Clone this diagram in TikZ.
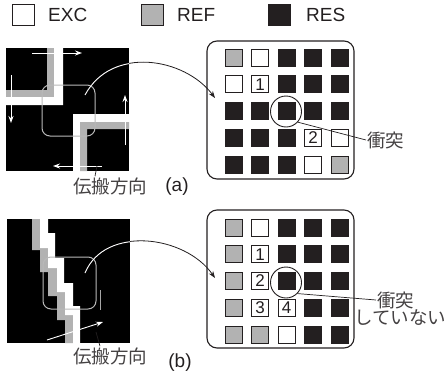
\documentclass[tikz,border=0pt]{standalone}
\usepackage{fontspec}
\setmainfont{Liberation Sans}
\newfontfamily\jp{Noto Sans CJK JP}
\usetikzlibrary{arrows.meta}
\definecolor{cellgray}{RGB}{178,178,178}
\definecolor{cellblack}{RGB}{35,31,32}
\definecolor{cellwhite}{RGB}{255,255,255}

\begin{document}
\begin{tikzpicture}[x=1pt,y=-1pt,
  cell/.style={draw=cellblack, line width=0.7pt, minimum size=17pt, inner sep=0pt, outer sep=0pt},
  legendbox/.style={draw=cellblack, line width=0.7pt, minimum width=22pt, minimum height=21pt, inner sep=0pt},
  latin/.style={font=\fontsize{19}{22}\selectfont, inner sep=0pt, text=cellblack},
  numtxt/.style={font=\fontsize{17}{18}\selectfont, inner sep=0pt, text=cellblack},
  jptxt/.style={font=\jp\fontsize{18.5}{20}\selectfont, inner sep=1pt, text=cellblack!85},
  panel/.style={draw=cellblack, line width=1.1pt, rounded corners=10pt},
  zoomframe/.style={draw=gray!55, line width=1pt, rounded corners=8pt},
  dirarrow/.style={draw=white, line width=0.9pt, -{Stealth[length=7pt,width=5pt]}},
  conn/.style={draw=cellblack, line width=0.8pt, -{Stealth[length=7pt,width=5pt]}},
  leader/.style={draw=cellblack, line width=0.7pt},
  hit/.style={circle, draw=cellblack, line width=0.9pt, minimum size=31pt, inner sep=0pt}]

\useasboundingbox (0,0) rectangle (447,383);

% ---------- legend ----------
\node[legendbox, fill=cellwhite] (lgexc) at (23.5,15) {};
\node[latin, anchor=west] (lgexct) at (48,15) {EXC};
\node[legendbox, fill=cellgray] (lgref) at (152.5,15) {};
\node[latin, anchor=west] (lgreft) at (177,15) {REF};
\node[legendbox, fill=cellblack] (lgres) at (279.5,15) {};
\node[latin, anchor=west] (lgrest) at (306,15) {RES};

% ---------- (a) propagation field ----------
\fill[black] (6,48) rectangle (129,171);
\fill[cellgray] (47,48) -- (54,48) -- (54,97) -- (6,97) -- (6,90) -- (47,90) -- cycle;
\fill[white] (54,48) -- (63,48) -- (63,105) -- (6,105) -- (6,97) -- (54,97) -- cycle;
\fill[white] (73,171) -- (73,114) -- (129,114) -- (129,122) -- (80,122) -- (80,171) -- cycle;
\fill[cellgray] (80,171) -- (80,122) -- (129,122) -- (129,129) -- (87,129) -- (87,171) -- cycle;
\draw[dirarrow] (32,53) -- (82,53);
\draw[dirarrow] (11,75) -- (11,123);
\draw[dirarrow] (125,145) -- (125,95);
\draw[dirarrow] (102,166) -- (53,166);
\draw[zoomframe] (42,85) rectangle (95,136);
\coordinate (startA) at (85,95);
\coordinate (arrA) at (97,166);
\node[jptxt] (dirA) at (110,186) {伝搬方向};
\node[latin] (capA) at (177,187) {(a)};
\draw[leader] ([xshift=-15pt]dirA.north) -- (arrA);

% ---------- (a) cell grid ----------
\draw[panel] (207,41) rectangle (354,179);
\foreach \row [count=\i from 0] in {
  {cellgray,cellwhite,cellblack,cellblack,cellblack},
  {cellwhite,cellwhite,cellblack,cellblack,cellblack},
  {cellblack,cellblack,cellblack,cellblack,cellblack},
  {cellblack,cellblack,cellblack,cellwhite,cellwhite},
  {cellblack,cellblack,cellblack,cellwhite,cellgray}} {
  \foreach \s [count=\j from 0] in \row {
    \node[cell, fill=\s] (a-\i-\j) at ({233.5+26.5*\j},{57.5+26.75*\i}) {};
  }
}
\node[numtxt] (na1) at (a-1-1) {1};
\node[numtxt] (na2) at (a-3-3) {2};
\node[hit] (hitA) at (286,111.5) {};
\node[jptxt, anchor=west] (colA) at (366,140) {衝突};
\draw[leader] (hitA.-42) -- (colA.west);
\coordinate (endA) at (215,98);
\draw[conn] (startA) .. controls (112,45) and (185,58) .. (endA);
\begin{scope}
  \clip (6,48) rectangle (129,171);
  \draw[white, line width=0.9pt] (startA) .. controls (112,45) and (185,58) .. (endA);
\end{scope}

% ---------- (b) propagation field ----------
\fill[black] (7,219) rectangle (130,343);
\fill[cellgray] (32,219) -- (32,250) -- (40,250) -- (40,272) -- (48,272) -- (48,296)
  -- (57,296) -- (57,320) -- (65,320) -- (65,343) -- (73,343) -- (73,315) -- (65,315)
  -- (65,292) -- (57,292) -- (57,268) -- (48,268) -- (48,248) -- (40,248) -- (40,219) -- cycle;
\fill[white] (40,219) -- (40,248) -- (48,248) -- (48,268) -- (57,268) -- (57,292)
  -- (65,292) -- (65,315) -- (73,315) -- (73,343) -- (80,343) -- (80,306) -- (73,306)
  -- (73,283) -- (64,283) -- (64,258) -- (55,258) -- (55,233) -- (48,233) -- (48,219) -- cycle;
\draw[gray!70, line width=0.8pt] (100,290) -- (100,310);
\draw[dirarrow] (47,340) -- (103,322);
\draw[zoomframe] (43,257) rectangle (96,309);
\coordinate (startB) at (85,273);
\coordinate (arrB) at (96,332);
\node[jptxt] (dirB) at (110,356) {伝搬方向};
\node[latin] (capB) at (180,363) {(b)};
\draw[leader] ([xshift=-10pt]dirB.north) -- (arrB);

% ---------- (b) cell grid ----------
\draw[panel] (207,210) rectangle (354,348);
\foreach \row [count=\i from 0] in {
  {cellgray,cellwhite,cellblack,cellblack,cellblack},
  {cellgray,cellwhite,cellblack,cellblack,cellblack},
  {cellgray,cellwhite,cellblack,cellblack,cellblack},
  {cellgray,cellwhite,cellwhite,cellblack,cellblack},
  {cellgray,cellgray,cellwhite,cellblack,cellblack}} {
  \foreach \s [count=\j from 0] in \row {
    \node[cell, fill=\s] (b-\i-\j) at ({233.5+26.5*\j},{227.5+26.75*\i}) {};
  }
}
\node[numtxt] (nb1) at (b-1-1) {1};
\node[numtxt] (nb2) at (b-2-1) {2};
\node[numtxt] (nb3) at (b-3-1) {3};
\node[numtxt] (nb4) at (b-3-2) {4};
\node[hit] (hitB) at (286,282.5) {};
\node[jptxt, anchor=west] (colB) at (376,300) {衝突};
\node[jptxt, anchor=east, inner sep=0pt] (colB2) at (446.5,318) {していない};
\draw[leader] (hitB.-44) -- (colB.west);
\coordinate (endB) at (215,278);
\draw[conn] (startB) .. controls (105,225) and (185,235) .. (endB);
\begin{scope}
  \clip (7,219) rectangle (130,343);
  \draw[white, line width=0.9pt] (startB) .. controls (105,225) and (185,235) .. (endB);
\end{scope}
\end{tikzpicture}
\end{document}
